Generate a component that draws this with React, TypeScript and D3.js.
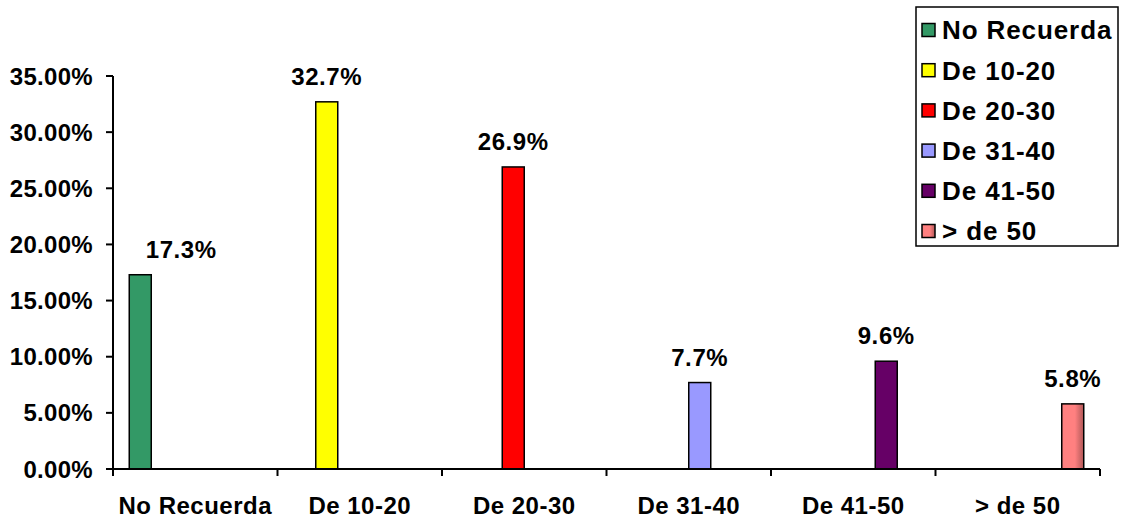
import React from 'react';
import * as d3 from 'd3';

const categories = ['No Recuerda', 'De 10-20', 'De 20-30', 'De 31-40', 'De 41-50', '> de 50'];
const values = [17.3, 32.7, 26.9, 7.7, 9.6, 5.8];
const colors = ['#339966', '#FFFF00', '#FF0000', '#9999FF', '#660066', '#FF8080'];
const yTicks = [0, 5, 10, 15, 20, 25, 30, 35];

const W = 1121;
const H = 519;
const FONT = '"Liberation Sans", Arial, sans-serif';

const App: React.FC = () => {
  const x0 = d3.scaleBand<string>().domain(categories).range([113, 1100]).padding(0);
  const x1 = d3
    .scaleBand<string>()
    .domain(categories)
    .range([0, x0.bandwidth()])
    .paddingInner(0)
    .paddingOuter(0.739);
  const y = d3.scaleLinear().domain([0, 35]).range([469, 76]);

  return (
    <svg
      width={W}
      height={H}
      style={{ position: 'fixed', left: 0, top: 0, background: '#fff' }}
      fontFamily={FONT}
      fontWeight="bold"
    >
      <defs>
        <linearGradient id="pinkGrad" x1="0" x2="1" y1="0" y2="0">
          <stop offset="0" stopColor="#FF8080" />
          <stop offset="0.6" stopColor="#FF8080" />
          <stop offset="1" stopColor="#B05858" />
        </linearGradient>
      </defs>

      {/* bars */}
      {categories.map((c, i) => {
        const bx = (x0(c) ?? 0) + (x1(c) ?? 0);
        const bw = x1.bandwidth();
        const top = y(values[i]);
        const fill = i === 5 ? 'url(#pinkGrad)' : colors[i];
        return (
          <g key={c}>
            <rect x={bx} y={top} width={bw} height={y(0) - top} fill={fill} stroke="#000" strokeWidth={1.5} />
            <text
              x={bx + bw / 2 + (i === 0 ? 41 : 0)}
              y={top - 17}
              textAnchor="middle"
              fontSize={24}
              letterSpacing={0.6}
            >
              {values[i].toFixed(1)}%
            </text>
          </g>
        );
      })}

      {/* y axis */}
      <line x1={113} x2={113} y1={y(35)} y2={y(0)} stroke="#000" strokeWidth={2} />
      {yTicks.map((t) => (
        <g key={t}>
          <line x1={106} x2={113} y1={y(t)} y2={y(t)} stroke="#000" strokeWidth={2} />
          <text x={93} y={y(t)} dy="0.36em" textAnchor="end" fontSize={24} letterSpacing={0.3}>
            {t.toFixed(2)}%
          </text>
        </g>
      ))}

      {/* x axis */}
      <line x1={106} x2={1100} y1={y(0)} y2={y(0)} stroke="#000" strokeWidth={2} />
      {[...categories.map((c) => x0(c) ?? 0), 1100].map((t, i) => (
        <line key={i} x1={t} x2={t} y1={y(0)} y2={y(0) + 7} stroke="#000" strokeWidth={2} />
      ))}
      {categories.map((c) => (
        <text
          key={c}
          x={(x0(c) ?? 0) + x0.bandwidth() / 2}
          y={514}
          textAnchor="middle"
          fontSize={24}
          letterSpacing={0.5}
        >
          {c}
        </text>
      ))}

      {/* legend */}
      <rect x={916} y={7} width={202} height={239} fill="#fff" stroke="#000" strokeWidth={1.5} />
      {categories.map((c, i) => {
        const cy = 30 + i * 40.2;
        return (
          <g key={c}>
            <rect
              x={922}
              y={cy - 6.5}
              width={13}
              height={13}
              fill={i === 5 ? 'url(#pinkGrad)' : colors[i]}
              stroke="#000"
              strokeWidth={1.5}
            />
            <text x={942} y={cy} dy="0.36em" fontSize={26} letterSpacing={0.9}>
              {c}
            </text>
          </g>
        );
      })}
    </svg>
  );
};

export default App;
